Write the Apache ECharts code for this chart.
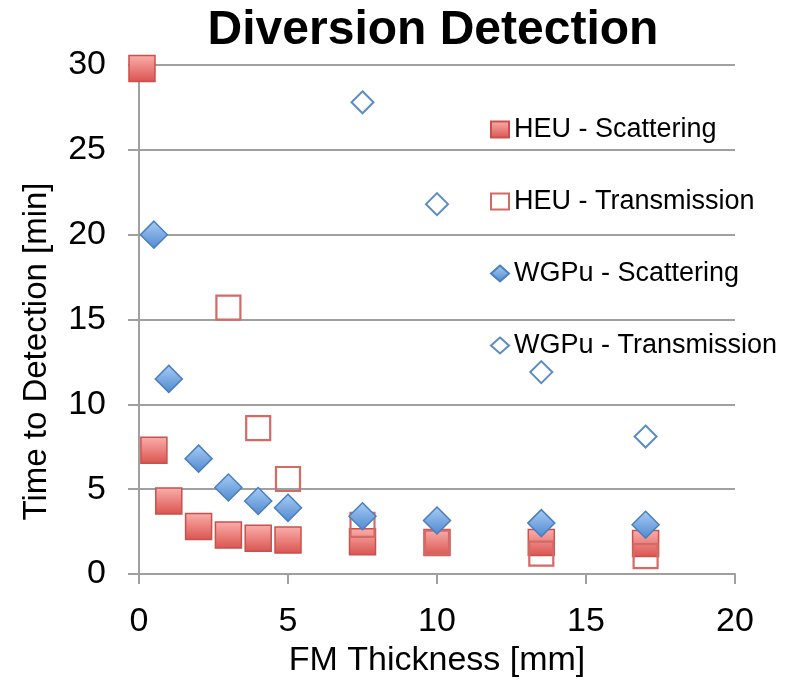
<!DOCTYPE html>
<html>
<head>
<meta charset="utf-8">
<script src="https://cdn.jsdelivr.net/npm/echarts@6/dist/echarts.min.js"></script>
<style>
  html, body { margin: 0; padding: 0; background: #fff; }
  #chart { width: 789px; height: 683px; }
</style>
</head>
<body>
<div id="chart"></div>
<script>
// FM thickness [mm] and time to detection [min] for each material / method
const heuScatX = [0.1, 0.5, 1, 2, 3, 4, 5, 7.5, 10, 13.5, 17];
const heuScatY = [29.8, 7.3, 4.3, 2.8, 2.3, 2.1, 2.0, 1.9, 1.85, 1.85, 1.8];

const heuTransX = [3, 4, 5, 7.5, 10, 13.5, 17];
const heuTransY = [15.7, 8.6, 5.6, 2.9, 1.85, 1.2, 1.05];

const puScatX = [0.5, 1, 2, 3, 4, 5, 7.5, 10, 13.5, 17];
const puScatY = [20.0, 11.5, 6.8, 5.1, 4.3, 3.9, 3.4, 3.15, 3.0, 2.9];

const puTransX = [7.5, 10, 13.5, 17];
const puTransY = [27.8, 21.8, 11.9, 8.1];

const seriesNames = ['HEU - Scattering', 'HEU - Transmission', 'WGPu - Scattering', 'WGPu - Transmission'];
const xTicks = [0, 5, 10, 15, 20];
const yTicks = [0, 5, 10, 15, 20, 25, 30];

const zip = (xs, ys) => xs.map((x, i) => [x, ys[i]]);

const redFill = new echarts.graphic.LinearGradient(0, 0, 0, 1, [
  { offset: 0, color: '#fbb0ac' },
  { offset: 1, color: '#d9534f' }
]);
const blueFill = new echarts.graphic.LinearGradient(0, 0, 0, 1, [
  { offset: 0, color: '#a9cdf4' },
  { offset: 1, color: '#4f88cf' }
]);

const chart = echarts.init(document.getElementById('chart'), null, { renderer: 'canvas' });

const FONT = 'Liberation Sans, Arial, sans-serif';
const GRID_COLOR = '#a0a0a0';

chart.setOption({
  animation: false,
  backgroundColor: '#ffffff',
  title: {
    text: 'Diversion Detection',
    left: 428,
    textAlign: 'center',
    top: 2,
    textStyle: { fontFamily: FONT, fontWeight: 'bold', fontSize: 48, color: '#000' }
  },
  legend: {
    orient: 'vertical',
    left: 485,
    top: 111,
    itemGap: 45,
    itemWidth: 18,
    itemHeight: 16,
    textStyle: { fontFamily: FONT, fontSize: 27, color: '#000' },
    data: [
      { name: seriesNames[0], icon: 'rect' },
      { name: seriesNames[1], icon: 'rect' },
      { name: seriesNames[2], icon: 'diamond' },
      { name: seriesNames[3], icon: 'diamond' }
    ]
  },
  grid: { left: 139, right: 54, top: 65, bottom: 105, containLabel: false },
  xAxis: {
    type: 'value',
    min: xTicks[0],
    max: xTicks[xTicks.length - 1],
    interval: 5,
    name: 'FM Thickness [mm]',
    nameLocation: 'middle',
    nameGap: 70,
    nameTextStyle: { fontFamily: FONT, fontSize: 34, color: '#000' },
    axisLine: { show: true, lineStyle: { color: GRID_COLOR, width: 2 } },
    axisTick: { show: true, inside: false, length: 10, lineStyle: { color: GRID_COLOR, width: 2 } },
    axisLabel: { fontFamily: FONT, fontSize: 34, color: '#000', margin: 31 },
    splitLine: { show: false }
  },
  yAxis: {
    type: 'value',
    min: yTicks[0],
    max: yTicks[yTicks.length - 1],
    interval: 5,
    name: 'Time to Detection [min]',
    nameLocation: 'middle',
    nameGap: 86,
    nameTextStyle: { fontFamily: FONT, fontSize: 33, color: '#000', padding: [0, 64, 0, 0] },
    axisLine: { show: true, lineStyle: { color: GRID_COLOR, width: 2 } },
    axisTick: { show: true, inside: false, length: 11, lineStyle: { color: GRID_COLOR, width: 2 } },
    axisLabel: { fontFamily: FONT, fontSize: 34, color: '#000', margin: 33 },
    splitLine: { show: true, lineStyle: { color: GRID_COLOR, width: 2 } }
  },
  series: [
    {
      name: seriesNames[0],
      type: 'scatter',
      symbol: 'rect',
      symbolSize: 26,
      data: zip(heuScatX, heuScatY),
      itemStyle: { color: redFill, borderColor: '#c9504c', borderWidth: 1.5, opacity: 1 }
    },
    {
      name: seriesNames[1],
      type: 'scatter',
      symbol: 'rect',
      symbolSize: 24,
      data: zip(heuTransX, heuTransY),
      itemStyle: { color: 'rgba(255,255,255,0)', borderColor: '#d46a66', borderWidth: 2.2, opacity: 1 }
    },
    {
      name: seriesNames[2],
      type: 'scatter',
      symbol: 'diamond',
      symbolSize: 27,
      data: zip(puScatX, puScatY),
      itemStyle: { color: blueFill, borderColor: '#4a7fc0', borderWidth: 1.5, opacity: 1 }
    },
    {
      name: seriesNames[3],
      type: 'scatter',
      symbol: 'diamond',
      symbolSize: 22,
      data: zip(puTransX, puTransY),
      itemStyle: { color: 'rgba(255,255,255,0)', borderColor: '#5a8cc8', borderWidth: 2, opacity: 1 }
    }
  ]
});
</script>
</body>
</html>
